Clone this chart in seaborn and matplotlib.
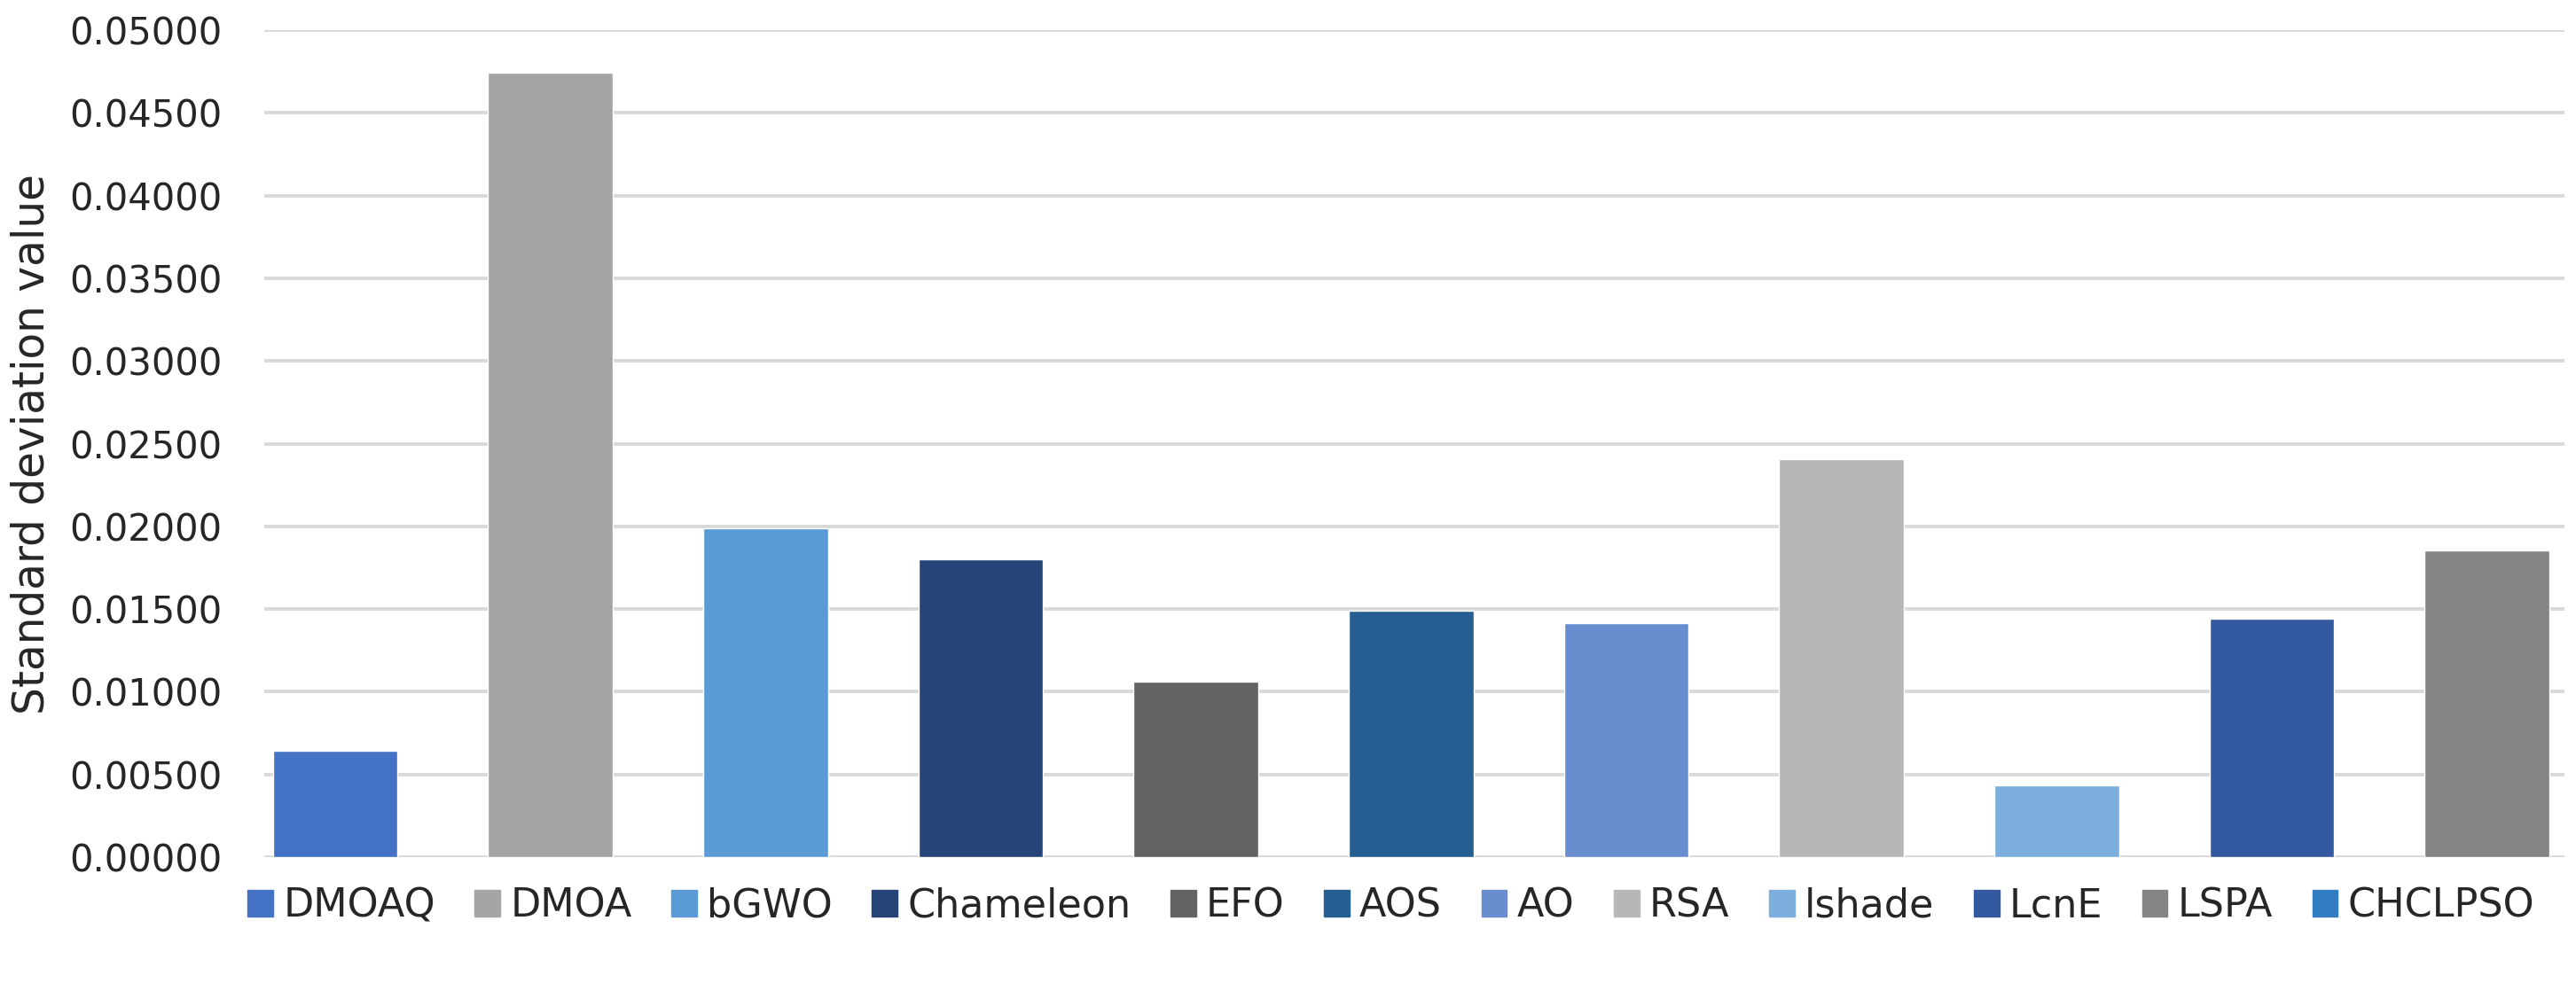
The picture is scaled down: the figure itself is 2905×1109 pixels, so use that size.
import matplotlib
matplotlib.use("Agg")
import matplotlib.pyplot as plt
import matplotlib.patches as mpatches
import seaborn as sns
import pandas as pd

# algorithm names (CHCLPSO only appears in the legend)
algorithms = ["DMOAQ", "DMOA", "bGWO", "Chameleon", "EFO", "AOS",
              "AO", "RSA", "lshade", "LcnE", "LSPA"]
legend_names = algorithms + ["CHCLPSO"]

# standard deviation values
std_values = [0.00643, 0.04744, 0.01987, 0.01803, 0.01063, 0.01489,
              0.01414, 0.02404, 0.00433, 0.01444, 0.01856]

# Excel-like series colours
colors = ["#4472C4", "#A5A5A5", "#5B9BD5", "#264478", "#636363", "#255E91",
          "#698ED0", "#B7B7B7", "#7CAFDD", "#335AA1", "#848484", "#327DC2"]

y_ticks = [0.0, 0.005, 0.01, 0.015, 0.02, 0.025, 0.03, 0.035, 0.04, 0.045, 0.05]

sns.set_style("white")
plt.rcParams["font.family"] = ["DejaVu Sans"]

df = pd.DataFrame({"algorithm": algorithms, "std": std_values})

fig = plt.figure(figsize=(29.05, 11.09), dpi=100)
ax = fig.add_axes([0.1026, 0.128, 0.8929, 0.8413])

sns.barplot(data=df, x="algorithm", y="std", hue="algorithm",
            palette=colors[:len(algorithms)], width=0.58, legend=False,
            saturation=1, ax=ax, zorder=3)

ax.set_ylim(0, 0.05)
ax.set_xlim(-0.33, len(algorithms) - 1 + 0.36)
ax.set_yticks(y_ticks)
ax.set_yticklabels([f"{t:.5f}" for t in y_ticks], fontsize=30)
ax.tick_params(axis="y", length=0, pad=34)
ax.set_xticks([])
ax.set_xlabel("")
ax.set_ylabel("Standard deviation value", fontsize=35)
ax.yaxis.set_label_coords(-0.092, 0.5)

ax.yaxis.grid(True, color="#D9D9D9", linewidth=2.8, zorder=0)
ax.set_axisbelow(True)
for side in ["top", "right", "left", "bottom"]:
    ax.spines[side].set_visible(False)

handles = [mpatches.Patch(color=c, label=n) for n, c in zip(legend_names, colors)]
fig.legend(handles=handles, loc="lower center", ncol=len(legend_names),
           bbox_to_anchor=(0.54, 0.031), frameon=False, fontsize=32,
           handlelength=0.65, handleheight=0.65, handletextpad=0.25,
           columnspacing=1.0, borderpad=0.2)

fig.savefig("out.png", dpi=100)
plt.close(fig)
